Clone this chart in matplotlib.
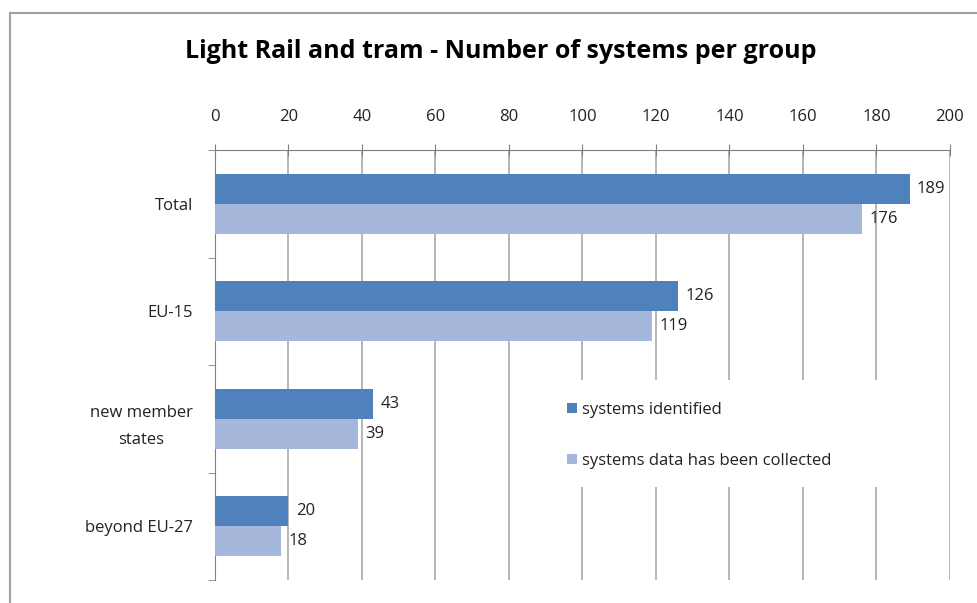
import matplotlib
matplotlib.use("Agg")
import matplotlib.pyplot as plt
import numpy as np
from matplotlib.patches import Rectangle

categories = ["Total", "EU-15", "new member\nstates", "beyond EU-27"]
identified = [189, 126, 43, 20]
collected = [176, 119, 39, 18]
series_names = ["systems identified", "systems data has been collected"]
x_ticks = [0, 20, 40, 60, 80, 100, 120, 140, 160, 180, 200]

plt.rcParams["font.family"] = ["Open Sans", "DejaVu Sans"]

dark = "#4F81BD"
light = "#A5B8DB"
grid_c = "#B0B0B0"
text_c = "#222222"

fig = plt.figure(figsize=(9.78, 6.03), dpi=100)
fig.patches.append(Rectangle((10 / 978, -0.1), 2, (603 - 13) / 603 + 0.1,
                             transform=fig.transFigure, fill=False,
                             edgecolor="#A0A0A0", linewidth=1.5))

ax = fig.add_axes([215 / 978, 1 - 580 / 603, 735 / 978, 430 / 603])

pos = np.arange(len(categories))
h = 0.28
ax.barh(pos - h / 2, identified, height=h, color=dark, label=series_names[0], zorder=3)
ax.barh(pos + h / 2, collected, height=h, color=light, label=series_names[1], zorder=3)

for p, v in zip(pos, identified):
    ax.text(v + 2, p - h / 2, str(v), va="center", ha="left", fontsize=12, color=text_c)
for p, v in zip(pos, collected):
    ax.text(v + 2, p + h / 2, str(v), va="center", ha="left", fontsize=12, color=text_c)

ax.set_xlim(0, 200)
ax.set_ylim(len(categories) - 0.5, -0.5)
ax.xaxis.tick_top()
ax.set_xticks(x_ticks)
ax.tick_params(axis="x", which="major", direction="inout", length=8, color="#808080",
               labelsize=12, labelcolor=text_c, pad=14)
ax.grid(axis="x", color=grid_c, linewidth=1.3, zorder=0)

ax.set_yticks(pos)
ax.set_yticklabels(categories, fontsize=12, color=text_c, linespacing=1.9)
for t in ax.get_yticklabels():
    t.set_multialignment("center")
ax.tick_params(axis="y", which="major", length=0, pad=16)
ax.set_yticks(np.arange(len(categories) + 1) - 0.5, minor=True)
ax.tick_params(axis="y", which="minor", length=5, color="#808080")

for s in ["right", "bottom"]:
    ax.spines[s].set_visible(False)
ax.spines["left"].set_color("#808080")
ax.spines["top"].set_color("#808080")

# white backing behind the legend, hiding the gridlines there
ax.add_patch(Rectangle((340 / 735, 93 / 430), 350 / 735, 107 / 430,
                       transform=ax.transAxes, facecolor="white",
                       edgecolor="none", zorder=2))

fig.text(0.512, 1 - 52 / 603, "Light Rail and tram - Number of systems per group",
         ha="center", va="center", fontsize=18, fontweight="bold", color="#000000")

leg = ax.legend(loc="upper left", bbox_to_anchor=(325 / 735, 205 / 430), frameon=False,
                fontsize=12, labelspacing=2.1, handlelength=0.6, handleheight=0.6,
                handletextpad=0.35, borderpad=1.1)
leg.set_zorder(4)
for t in leg.get_texts():
    t.set_color(text_c)

fig.savefig("out.png", dpi=100)
